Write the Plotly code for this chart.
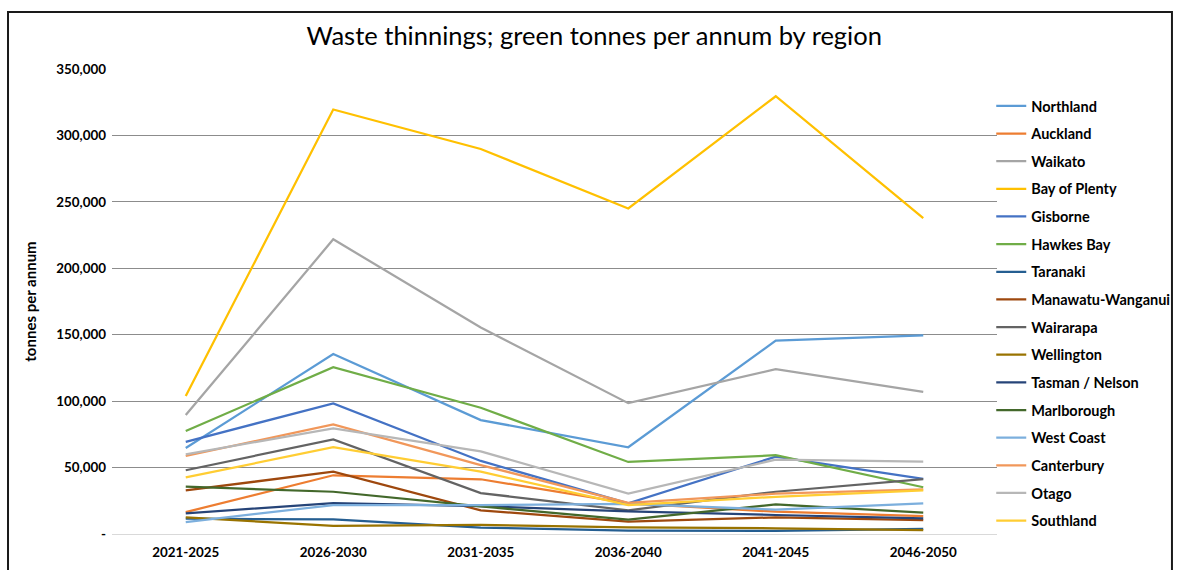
import plotly.graph_objects as go

periods = ["2021-2025", "2026-2030", "2031-2035", "2036-2040", "2041-2045", "2046-2050"]

regions = ["Northland", "Auckland", "Waikato", "Bay of Plenty", "Gisborne", "Hawkes Bay",
           "Taranaki", "Manawatu-Wanganui", "Wairarapa", "Wellington", "Tasman / Nelson",
           "Marlborough", "West Coast", "Canterbury", "Otago", "Southland"]

northland = [64700, 135500, 85700, 65300, 145500, 149500]
auckland = [16500, 44200, 41200, 23100, 16800, 13500]
waikato = [89500, 221800, 155500, 98500, 124000, 107000]
bay_of_plenty = [103800, 319500, 289800, 245000, 329500, 237800]
gisborne = [69400, 98300, 55000, 23000, 58200, 41500]
hawkes_bay = [77500, 125600, 95000, 54200, 59300, 35200]
taranaki = [11500, 11000, 4800, 2500, 2300, 3800]
manawatu_wanganui = [32800, 46900, 17800, 9300, 12500, 10500]
wairarapa = [48000, 71200, 30800, 17800, 31800, 41300]
wellington = [12500, 6200, 6800, 5000, 4300, 3000]
tasman_nelson = [15500, 23300, 21000, 17000, 14300, 11800]
marlborough = [35600, 31800, 20800, 10800, 22300, 16000]
west_coast = [9000, 21800, 21800, 22600, 18300, 23000]
canterbury = [58700, 82500, 51900, 23500, 30300, 33600]
otago = [60000, 79500, 62200, 30400, 56000, 54500]
southland = [42600, 65300, 46900, 21800, 28000, 32800]

series = [northland, auckland, waikato, bay_of_plenty, gisborne, hawkes_bay, taranaki,
          manawatu_wanganui, wairarapa, wellington, tasman_nelson, marlborough, west_coast,
          canterbury, otago, southland]

colors = ["#5B9BD5", "#ED7D31", "#A5A5A5", "#FFC000", "#4472C4", "#70AD47", "#255E91",
          "#9E480E", "#636363", "#997300", "#264478", "#43682B", "#7CAFDD", "#F1975A",
          "#B7B7B7", "#FFCD33"]

yticks = [0, 50000, 100000, 150000, 200000, 250000, 300000, 350000]
yticklabels = ["-", "50,000", "100,000", "150,000", "200,000", "250,000", "300,000", "350,000"]

FONT = "Lato, Carlito, Calibri, 'Open Sans', sans-serif"

fig = go.Figure()
for name, vals, col in zip(regions, series, colors):
    fig.add_trace(go.Scatter(x=periods, y=vals, mode="lines", name=name,
                             legendgroup=name,
                             line=dict(color=col, width=2.25)))

fig.update_layout(
    width=1179, height=570,
    margin=dict(l=112, r=182, t=69, b=36, autoexpand=False),
    paper_bgcolor="white", plot_bgcolor="white",
    font=dict(family=FONT, color="#000000"),
    title=dict(text="Waste thinnings; green tonnes per annum by region",
               x=0.504, xanchor="center", y=0.937, yanchor="middle",
               font=dict(size=25.5, family=FONT, color="#000000")),
    showlegend=True,
    legend=dict(x=0.9935, xanchor="left", y=0.955, yanchor="top",
                font=dict(size=14.5, family=FONT, color="#000000", weight="bold"),
                tracegroupgap=5.8, itemwidth=30, bgcolor="rgba(0,0,0,0)"),
)

fig.update_xaxes(range=[-0.5, 5.5], showgrid=False, showline=False, zeroline=False,
                 ticks="", tickfont=dict(size=13.4, family=FONT, color="#000000", weight="bold"),
                 ticklabelstandoff=9)
fig.update_yaxes(range=[0, 350000], tickvals=yticks, ticktext=yticklabels,
                 showgrid=True, gridcolor="#8C8C8C", gridwidth=1,
                 zeroline=True, zerolinecolor="#D9D9D9", zerolinewidth=1,
                 showline=False, ticks="",
                 tickfont=dict(size=13.4, family=FONT, color="#000000", weight="bold"),
                 ticklabelstandoff=5,
                 title=dict(text="tonnes per annum", standoff=16,
                            font=dict(size=15, family=FONT, color="#000000", weight="bold")))

# outer chart border
fig.add_shape(type="rect", xref="paper", yref="paper",
              x0=-0.1175, x1=1.1977, y0=-0.12, y1=1.1226,
              line=dict(color="#1a1a1a", width=2), fillcolor="rgba(0,0,0,0)", layer="below")

fig.write_html("out.html", config={"displayModeBar": False},
               post_script="document.body.style.margin='0';document.body.style.overflow='hidden';")
